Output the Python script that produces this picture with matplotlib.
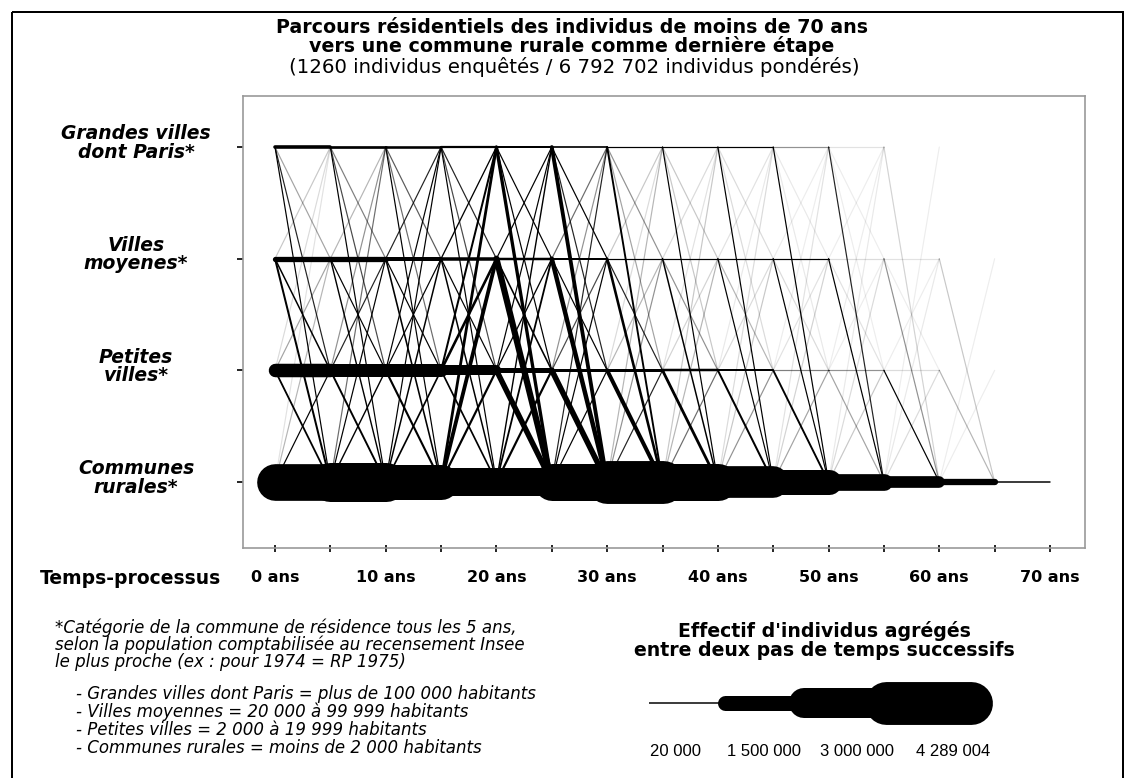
import matplotlib
matplotlib.use("Agg")
import matplotlib.pyplot as plt
from matplotlib.patches import Rectangle

categories = ["Grandes villes\ndont Paris*", "Villes\nmoyenes*", "Petites\nvilles*", "Communes\nrurales*"]
cat_y = [4, 3, 2, 1]
step_starts = list(range(0, 70, 5))
tick_years = list(range(0, 75, 5))
label_years = [0, 10, 20, 30, 40, 50, 60, 70]
year_labels = ["0 ans", "10 ans", "20 ans", "30 ans", "40 ans", "50 ans", "60 ans", "70 ans"]

# flows in thousands of weighted individuals
# one row per 5-year step, columns = destination (G, V, P, R)
from_G = [
    [360, 25, 60, 100],
    [270, 35, 50, 110],
    [260, 45, 40, 90],
    [220, 60, 50, 110],
    [200, 110, 120, 330],
    [170, 70, 60, 380],
    [120, 30, 25, 190],
    [100, 15, 15, 120],
    [80, 10, 10, 90],
    [30, 6, 6, 70],
    [8, 4, 4, 60],
    [0, 0, 0, 12],
    [0, 0, 0, 0],
    [0, 0, 0, 0],
]
from_V = [
    [15, 530, 150, 200],
    [20, 530, 80, 140],
    [60, 400, 90, 160],
    [130, 350, 90, 150],
    [70, 250, 160, 620],
    [40, 200, 110, 450],
    [15, 120, 60, 260],
    [10, 100, 30, 150],
    [8, 80, 20, 110],
    [5, 70, 10, 80],
    [3, 10, 8, 80],
    [0, 8, 5, 30],
    [0, 0, 0, 15],
    [0, 0, 0, 0],
]
from_P = [
    [10, 25, 1350, 180],
    [30, 60, 1300, 190],
    [70, 120, 1300, 210],
    [200, 260, 1000, 170],
    [80, 130, 500, 550],
    [30, 50, 300, 560],
    [10, 20, 300, 400],
    [8, 12, 250, 280],
    [6, 10, 200, 200],
    [5, 8, 35, 190],
    [3, 5, 30, 25],
    [0, 3, 10, 110],
    [0, 0, 0, 20],
    [0, 0, 0, 0],
]
from_R = [
    [8, 20, 110, 3670],
    [40, 70, 140, 3900],
    [120, 150, 170, 3500],
    [280, 380, 220, 2800],
    [140, 180, 220, 2800],
    [60, 90, 120, 3700],
    [20, 30, 60, 4289],
    [15, 20, 40, 3700],
    [10, 15, 30, 3170],
    [8, 12, 25, 2500],
    [6, 10, 15, 1670],
    [4, 6, 10, 1170],
    [0, 3, 5, 630],
    [0, 0, 0, 150],
]

legend_values = [20, 1500, 3000, 4289.004]
legend_labels = ["20 000", "1 500 000", "3 000 000", "4 289 004"]

title_lines = ["Parcours résidentiels des individus de moins de 70 ans",
               "vers une commune rurale comme dernière étape"]
subtitle = "(1260 individus enquêtés / 6 792 702 individus pondérés)"
note_lines = ["*Catégorie de la commune de résidence tous les 5 ans,",
              "selon la population comptabilisée au recensement Insee",
              "le plus proche (ex : pour 1974 = RP 1975)"]
def_lines = ["- Grandes villes dont Paris = plus de 100 000 habitants",
             "- Villes moyennes = 20 000 à 99 999 habitants",
             "- Petites villes = 2 000 à 19 999 habitants",
             "- Communes rurales = moins de 2 000 habitants"]

DPI = 100
PX = 72.0 / DPI


def width_pt(v):
    return max(1.2, v * 0.01) * PX


def alpha_of(v):
    return min(1.0, max(0.07, v / 70.0))


fig = plt.figure(figsize=(11.35, 7.78), dpi=DPI)

# overlay in pixel coordinates for the free texts and the legend
over = fig.add_axes([0, 0, 1, 1])
over.set_xlim(0, 1135)
over.set_ylim(778, 0)
over.axis("off")

ax = fig.add_axes([243 / 1135, 1 - 548 / 778, (1085 - 243) / 1135, (548 - 96) / 778])
ax.set_xlim(-2.89, 73.16)
ax.set_ylim(0.409, 4.457)

segments = []
for origin, table in enumerate([from_G, from_V, from_P, from_R]):
    for s, row in enumerate(table):
        for dest, v in enumerate(row):
            if v > 0:
                segments.append((v, step_starts[s], origin, dest))
segments.sort()
for v, t0, o, d in segments:
    ax.plot([t0, t0 + 5], [cat_y[o], cat_y[d]], color="black", lw=width_pt(v),
            alpha=alpha_of(v), solid_capstyle="round")

for sp in ax.spines.values():
    sp.set_color("#999999")
    sp.set_linewidth(1.2)

ax.set_yticks(cat_y)
ax.set_yticklabels([])
ax.tick_params(axis="y", direction="out", length=6 * PX, width=1.2)
for y, lab in zip(cat_y, categories):
    ax.annotate(lab, xy=((136 - 243) / 842, y), xycoords=ax.get_yaxis_transform(),
                xytext=(0, 4 * PX), textcoords="offset points", ha="center", va="center",
                fontsize=13.5, fontweight="bold", style="italic", linespacing=0.95,
                multialignment="center", annotation_clip=False)

ax.set_xticks(tick_years)
ax.set_xticklabels([year_labels[label_years.index(t)] if t in label_years else "" for t in tick_years],
                   fontsize=11.5, fontweight="bold")
ax.tick_params(axis="x", direction="inout", length=7 * PX, width=1.2, pad=19 * PX)

# titles
over.text(572, 27, title_lines[0], ha="center", va="center", fontsize=13.7, fontweight="bold")
over.text(572, 46, title_lines[1], ha="center", va="center", fontsize=13.7, fontweight="bold")
over.text(574, 67, subtitle, ha="center", va="center", fontsize=14.2)

over.text(130, 578, "Temps-processus", ha="center", va="center", fontsize=13.5, fontweight="bold")

over.text(55, 645, "\n".join(note_lines), ha="left", va="center", fontsize=12,
          style="italic", linespacing=0.91)
over.text(76, 721, "\n".join(def_lines), ha="left", va="center", fontsize=12,
          style="italic", linespacing=0.97)

# legend
over.text(824, 631, "Effectif d'individus agrégés", ha="center", va="center",
          fontsize=13.6, fontweight="bold")
over.text(824, 651, "entre deux pas de temps successifs", ha="center", va="center",
          fontsize=13.6, fontweight="bold")
leg_x = [649, 725, 804, 886, 971]
leg_y = 703
for i, v in enumerate(legend_values):
    cap = "butt" if i == 0 else "round"
    over.plot([leg_x[i], leg_x[i + 1]], [leg_y, leg_y], color="black", lw=max(1.5 * PX, width_pt(v)),
              solid_capstyle=cap)
leg_lab_x = [675, 764, 857, 953]
for x, lab in zip(leg_lab_x, legend_labels):
    over.text(x, 752, lab, ha="center", va="center", fontsize=12, family="Liberation Sans")

# outer frame
over.add_patch(Rectangle((12, 12), 1111, 800, fill=False, edgecolor="black",
                         lw=2 * PX, clip_on=False))

fig.savefig("out.png", dpi=DPI)
